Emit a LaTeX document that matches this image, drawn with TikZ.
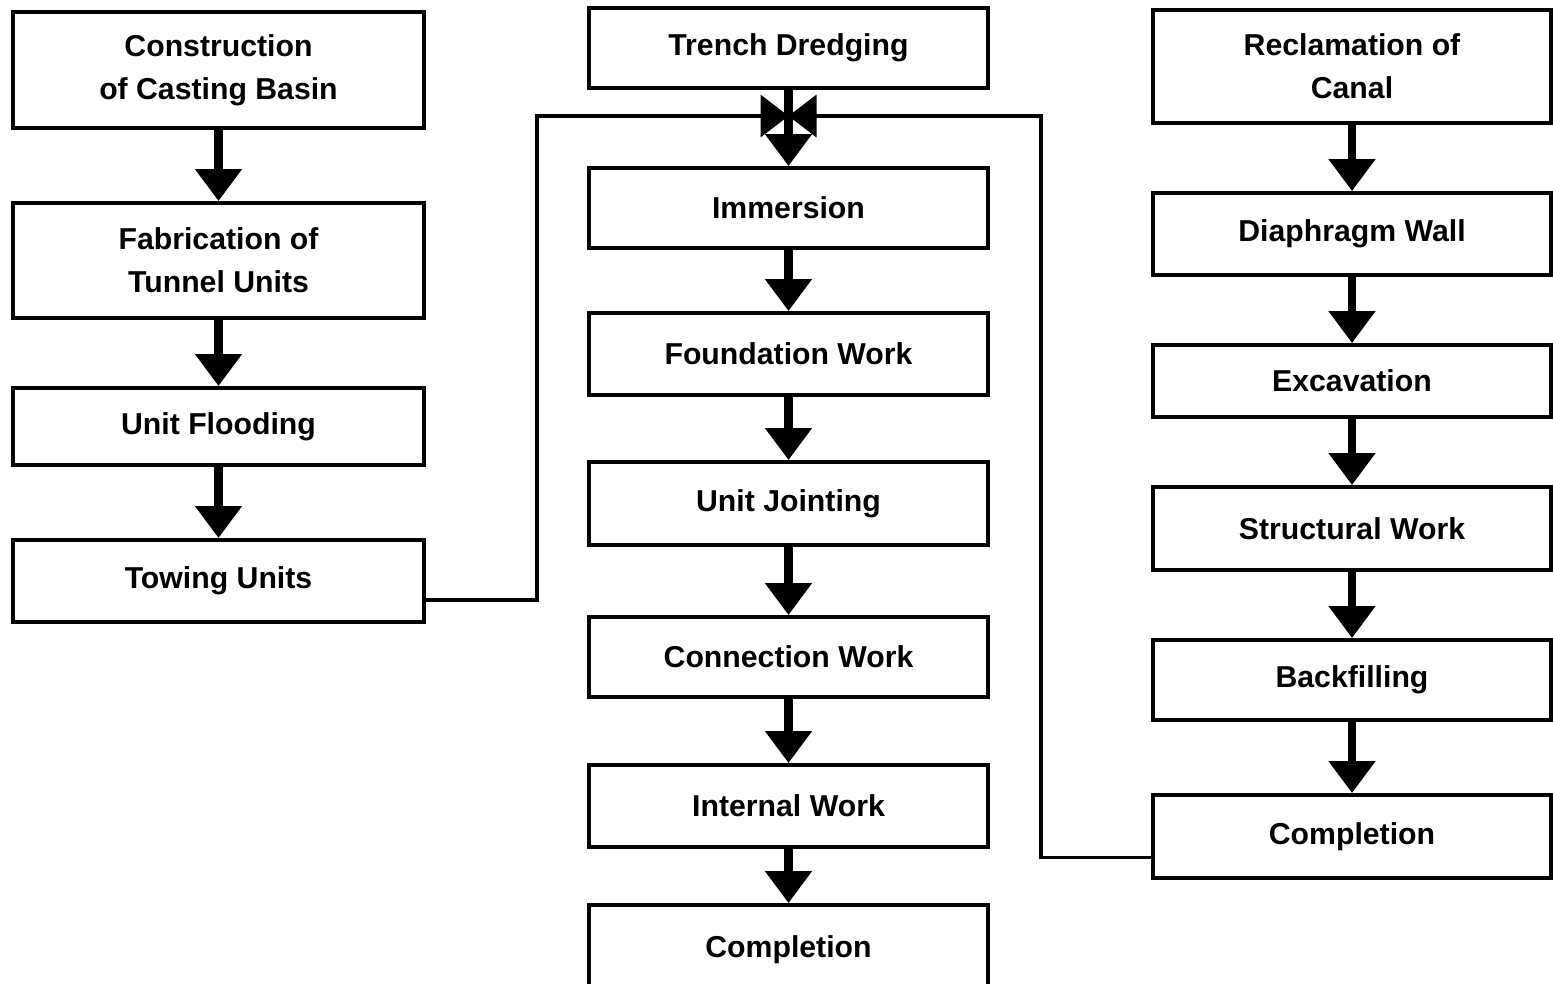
\documentclass[tikz,border=0pt]{standalone}
\usepackage{fontspec}
\setmainfont{Liberation Sans}
\usetikzlibrary{arrows.meta}
\begin{document}
\begin{tikzpicture}[
		stepbox/.style={draw, line width=1.1pt, align=center, inner sep=0pt,
			font=\bfseries\fontsize{8.6}{12.2}\selectfont},
		leftbox/.style={stepbox, minimum width=4.11cm},
		midbox/.style={stepbox, minimum width=3.99cm},
		rightbox/.style={stepbox, minimum width=3.98cm},
		flow/.style={line width=2.3pt, -{Triangle[length=0.32cm, width=0.45cm]}},
		feed/.style={line width=1.1pt, -{Triangle[length=0.28cm, width=0.42cm]}}
	]
		\useasboundingbox (0,0) rectangle (15.53,-9.83);
	
		% Define left column
		\node[leftbox, minimum height=1.16cm] (NodeCasting) at (2.185,-0.70) {Construction\\of Casting Basin};
		\node[leftbox, minimum height=1.15cm] (NodeFabrication) at (2.185,-2.605) {Fabrication of\\Tunnel Units};
		\node[leftbox, minimum height=0.77cm] (NodeFlooding) at (2.185,-4.265) {Unit Flooding};
		\node[leftbox, minimum height=0.82cm] (NodeTowing) at (2.185,-5.81) {Towing Units};
	
		\draw[flow] (NodeCasting) -- (NodeFabrication);
		\draw[flow] (NodeFabrication) -- (NodeFlooding);
		\draw[flow] (NodeFlooding) -- (NodeTowing);
		
		
		% Define middle column
		\node[midbox, minimum height=0.80cm] (NodeTrench) at (7.885,-0.48) {Trench Dredging};
		\node[midbox, minimum height=0.80cm] (NodeImmersion) at (7.885,-2.08) {Immersion};
		\node[midbox, minimum height=0.82cm] (NodeFoundation) at (7.885,-3.54) {Foundation Work};
		\node[midbox, minimum height=0.83cm] (NodeJointing) at (7.885,-5.035) {Unit Jointing};
		\node[midbox, minimum height=0.80cm] (NodeConnection) at (7.885,-6.57) {Connection Work};
		\node[midbox, minimum height=0.82cm] (NodeInternal) at (7.885,-8.06) {Internal Work};
		\node[midbox, minimum height=0.90cm] (NodeCompletionMid) at (7.885,-9.50) {Completion};
		\coordinate (Junction) at (7.885,-1.16);
		
		\draw[flow] (NodeTrench) -- (NodeImmersion);
		\draw[flow] (NodeImmersion) -- (NodeFoundation);
		\draw[flow] (NodeFoundation) -- (NodeJointing);
		\draw[flow] (NodeJointing) -- (NodeConnection);
		\draw[flow] (NodeConnection) -- (NodeInternal);
		\draw[flow] (NodeInternal) -- (NodeCompletionMid);
		
		
		% Define right column
		\node[rightbox, minimum height=1.13cm] (NodeReclamation) at (13.52,-0.665) {Reclamation of\\Canal};
		\node[rightbox, minimum height=0.82cm] (NodeDiaphragm) at (13.52,-2.34) {Diaphragm Wall};
		\node[rightbox, minimum height=0.72cm] (NodeExcavation) at (13.52,-3.81) {Excavation};
		\node[rightbox, minimum height=0.83cm] (NodeStructural) at (13.52,-5.285) {Structural Work};
		\node[rightbox, minimum height=0.80cm] (NodeBackfilling) at (13.52,-6.80) {Backfilling};
		\node[rightbox, minimum height=0.83cm] (NodeCompletionRight) at (13.52,-8.365) {Completion};
		
		\draw[flow] (NodeReclamation) -- (NodeDiaphragm);
		\draw[flow] (NodeDiaphragm) -- (NodeExcavation);
		\draw[flow] (NodeExcavation) -- (NodeStructural);
		\draw[flow] (NodeStructural) -- (NodeBackfilling);
		\draw[flow] (NodeBackfilling) -- (NodeCompletionRight);
		
		% Feed into immersion
		\draw[feed] ([yshift=-0.19cm]NodeTowing.east) -- ++(1.11,0) |- (Junction);
		\draw[feed] ([yshift=-0.21cm]NodeCompletionRight.west) -- ++(-1.10,0) |- (Junction);
	\end{tikzpicture}
\end{document}
